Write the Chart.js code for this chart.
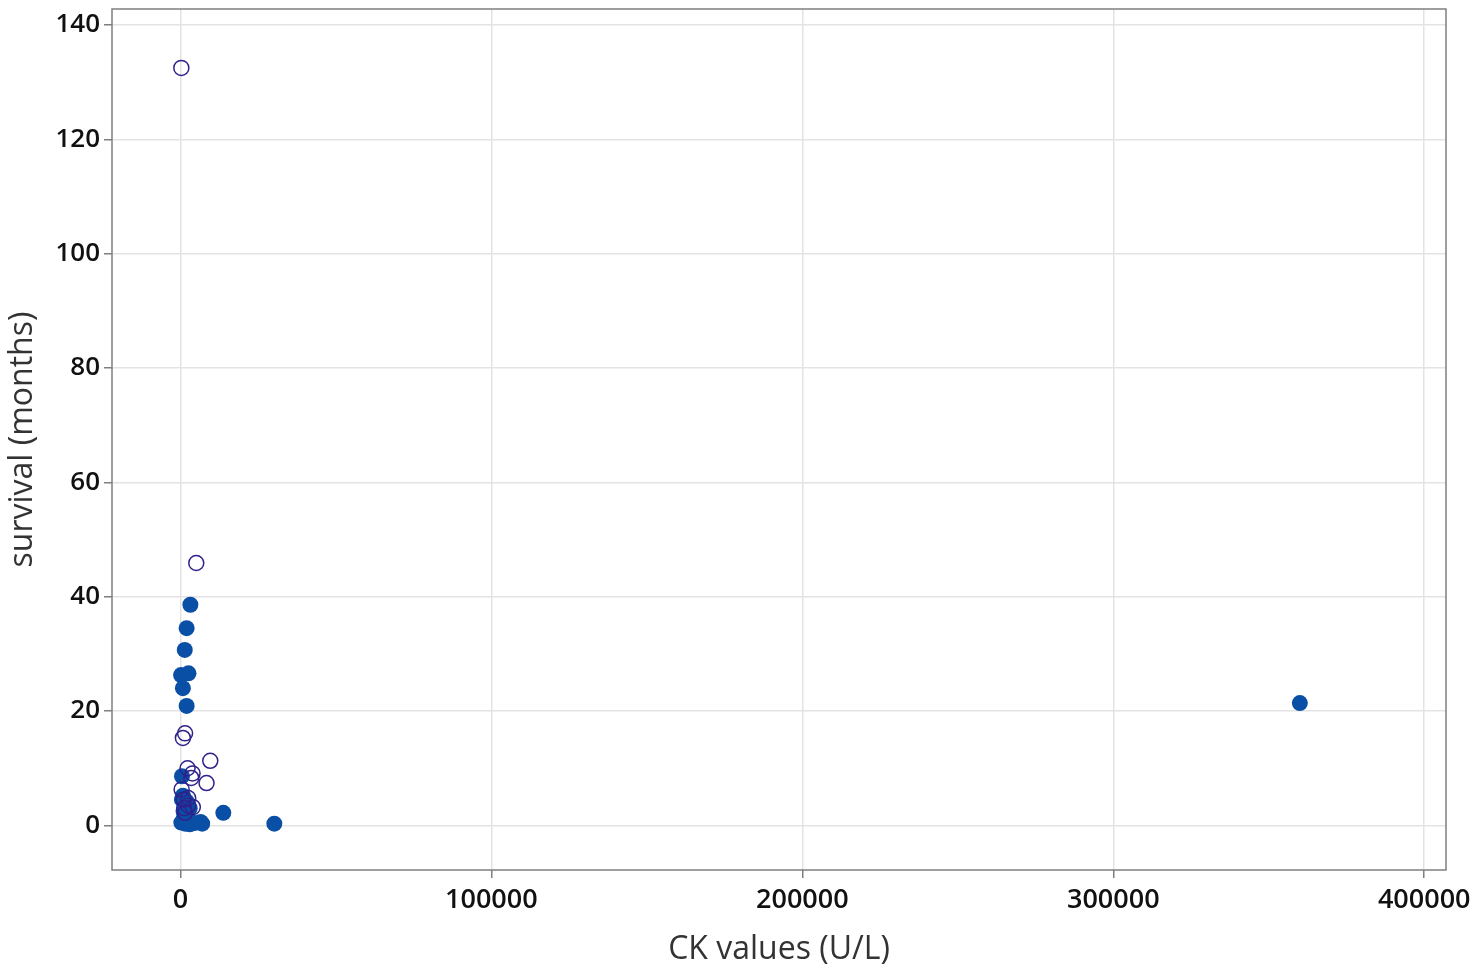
<!DOCTYPE html>
<html>
<head>
<meta charset="utf-8">
<script src="https://cdn.jsdelivr.net/npm/chart.js@4"></script>
<style>
html,body{margin:0;padding:0;background:#fff;}
#wrap{width:1477px;height:971px;position:relative;}
</style>
</head>
<body>
<div id="wrap"><canvas id="c" width="1477" height="971"></canvas></div>
<script>
// CK values (U/L) and survival (months)
const filledCK = [360000, 30200, 13800, 3200, 2000, 1400, 2600, 200, 800, 2000, 500, 500, 1500, 1000, 300, 1500, 3000, 4500, 6500, 7000, 2500, 800, 3000, 1200, 2000];
const filledSurv = [21.4, 0.3, 2.2, 38.6, 34.5, 30.7, 26.6, 26.3, 24.0, 20.9, 8.6, 4.5, 3.8, 2.5, 0.5, 0.3, 0.2, 0.4, 0.6, 0.3, 1.0, 5.2, 3.0, 1.5, 4.2];
const openCK = [300, 5100, 800, 1500, 9600, 8400, 2300, 3900, 3500, 400, 1000, 2500, 4000, 1500, 2500, 1200];
const openSurv = [132.5, 45.9, 15.3, 16.1, 11.3, 7.4, 10.0, 9.1, 8.3, 6.3, 4.5, 3.5, 3.2, 2.2, 4.8, 3.0];
const xTicks = [0, 100000, 200000, 300000, 400000];
const yTicks = [0, 20, 40, 60, 80, 100, 120, 140];

const toPts = (xs, ys) => xs.map((x, i) => ({x: x, y: ys[i]}));

const framePlugin = {
  id: 'frame',
  beforeDatasetsDraw(chart) {
    const a = chart.chartArea, ctx = chart.ctx;
    ctx.save();
    ctx.strokeStyle = '#7f7f7f';
    ctx.lineWidth = 1.5;
    ctx.strokeRect(a.left, a.top, a.right - a.left, a.bottom - a.top);
    ctx.restore();
  }
};

const font = '"Open Sans", "Noto Sans", sans-serif';
const zeroPad = s => { s.paddingTop = 0; s.paddingBottom = 0; s.paddingLeft = 0; s.paddingRight = 0; };

new Chart(document.getElementById('c'), {
  type: 'scatter',
  data: {
    datasets: [
      {
        label: 'open',
        data: toPts(openCK, openSurv),
        pointStyle: 'circle',
        pointRadius: 7.5,
        pointBorderWidth: 1.5,
        pointBackgroundColor: 'rgba(255,255,255,0)',
        pointBorderColor: '#2f218c',
        order: 0
      },
      {
        label: 'filled',
        data: toPts(filledCK, filledSurv),
        pointStyle: 'circle',
        pointRadius: 8,
        pointBorderWidth: 0,
        pointBackgroundColor: '#0a4fa6',
        pointBorderColor: '#0a4fa6',
        order: 1
      }
    ]
  },
  options: {
    responsive: false,
    animation: false,
    layout: {padding: {left: 0, right: 31, top: 5, bottom: 0}},
    plugins: {legend: {display: false}, tooltip: {enabled: false}},
    scales: {
      x: {
        type: 'linear',
        min: -22000,
        max: 407000,
        afterBuildTicks: s => { s.ticks = xTicks.map(v => ({value: v})); },
        afterFit: s => { s.height = 101; zeroPad(s); },
        grid: {color: '#e3e3e3', lineWidth: 1.5, tickLength: 8, tickColor: '#7f7f7f', drawTicks: true},
        border: {display: false},
        ticks: {color: '#111', font: {family: font, size: 27, weight: '600'}, padding: 6, maxRotation: 0, callback: v => String(v)},
        title: {display: true, text: 'CK values (U/L)', color: '#333', font: {family: font, size: 32}, padding: {top: 0, bottom: 2}}
      },
      y: {
        type: 'linear',
        min: -7.8,
        max: 142.8,
        afterBuildTicks: s => { s.ticks = yTicks.map(v => ({value: v})); },
        afterFit: s => { s.width = 112; zeroPad(s); },
        grid: {color: '#e3e3e3', lineWidth: 1.5, tickLength: 8, tickColor: '#7f7f7f', drawTicks: true},
        border: {display: false},
        ticks: {color: '#111', font: {family: font, size: 26, weight: '600'}, padding: 4, callback: v => String(v)},
        title: {display: true, text: 'survival (months)', color: '#333', font: {family: font, size: 32}, padding: {top: 4, bottom: 4}}
      }
    }
  },
  plugins: [framePlugin]
});
</script>
</body>
</html>
